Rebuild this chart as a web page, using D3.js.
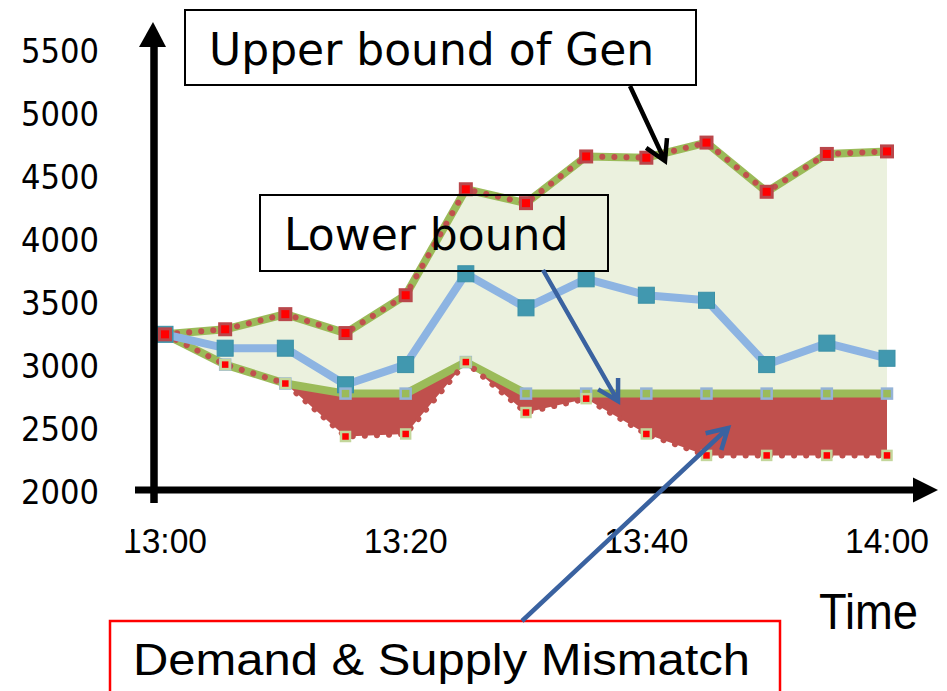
<!DOCTYPE html>
<html>
<head>
<meta charset="utf-8">
<script src="https://cdn.jsdelivr.net/npm/d3@7"></script>
<style>
  body { margin: 0; background: #fff; }
  svg { display: block; }
</style>
</head>
<body>
<div id="chart"></div>
<script>
// generation bounds vs. demand, 5 minute steps
const times = ["13:00","13:05","13:10","13:15","13:20","13:25","13:30","13:35","13:40","13:45","13:50","13:55","14:00"];
const upperGen = [3250, 3290, 3410, 3260, 3560, 4400, 4290, 4660, 4650, 4770, 4380, 4680, 4700];
const actualGen = [3250, 3140, 3140, 2850, 3010, 3730, 3460, 3690, 3560, 3520, 3010, 3180, 3060];
const lowerGen = [3250, 3010, 2860, 2780, 2780, 3030, 2780, 2780, 2780, 2780, 2780, 2780, 2780];
const demand = [3250, 3010, 2860, 2440, 2460, 3030, 2630, 2740, 2460, 2290, 2290, 2290, 2290];
const yTicks = [2000, 2500, 3000, 3500, 4000, 4500, 5000, 5500];
const xTicks = ["13:00", "13:20", "13:40", "14:00"];

const width = 947, height = 691;
const parse = d3.timeParse("%H:%M");

const svg = d3.select("#chart")
  .append("svg")
    .attr("width", width)
    .attr("height", height);

svg.append("rect").attr("width", width).attr("height", height).attr("fill", "#fff");

const x = d3.scaleTime()
  .domain([parse("13:00"), parse("14:00")])
  .range([165, 887]);
const y = d3.scaleLinear()
  .domain([2000, 5500])
  .range([492, 50.5]);

const data = times.map((t, i) => ({
  t: parse(t), up: upperGen[i], act: actualGen[i], low: lowerGen[i], dem: demand[i]
}));

// filled bands
svg.append("path")
  .datum(data)
  .attr("fill", "#EBF1DE")
  .attr("d", d3.area().x(d => x(d.t)).y0(d => y(d.low)).y1(d => y(d.up)));
svg.append("path")
  .datum(data)
  .attr("fill", "#C0504D")
  .attr("d", d3.area().x(d => x(d.t)).y0(d => y(d.low)).y1(d => y(d.dem)));

const line = key => d3.line().x(d => x(d.t)).y(d => y(d[key]));

// lower bound (green) + demand (dotted red)
svg.append("path").datum(data)
  .attr("fill", "none").attr("stroke", "#9BBB59").attr("stroke-width", 8)
  .attr("stroke-linejoin", "round")
  .attr("d", line("low"));
svg.append("path").datum(data)
  .attr("fill", "none").attr("stroke", "#C0504D").attr("stroke-width", 6)
  .attr("stroke-linecap", "round").attr("stroke-dasharray", "0.1 12")
  .attr("d", line("dem"));

// upper bound
svg.append("path").datum(data)
  .attr("fill", "none").attr("stroke", "#9BBB59").attr("stroke-width", 8)
  .attr("stroke-linejoin", "round")
  .attr("d", line("up"));
svg.append("path").datum(data)
  .attr("fill", "none").attr("stroke", "#C0504D").attr("stroke-width", 6)
  .attr("stroke-linecap", "round").attr("stroke-dasharray", "0.1 12")
  .attr("d", line("up"));

// actual generation
svg.append("path").datum(data)
  .attr("fill", "none").attr("stroke", "#8DB4E2").attr("stroke-width", 8)
  .attr("stroke-linejoin", "round")
  .attr("d", line("act"));

function markers(key, size, fill, stroke, sw) {
  svg.append("g").selectAll("rect")
    .data(data)
    .join("rect")
      .attr("x", d => x(d.t) - size / 2)
      .attr("y", d => y(d[key]) - size / 2)
      .attr("width", size).attr("height", size)
      .attr("fill", fill)
      .attr("stroke", stroke).attr("stroke-width", sw);
}
markers("act", 16, "#4198AF", "#3B90A6", 1);
markers("low", 10, "#9BBB59", "#95B3D7", 2.5);
markers("dem", 9, "#FF0000", "#C3D69B", 2.5);
markers("up", 11, "#FF0000", "#B9474B", 3);

// axes
svg.append("line").attr("x1", 154).attr("x2", 154).attr("y1", 503).attr("y2", 44)
  .attr("stroke", "#000").attr("stroke-width", 7.5);
svg.append("path").attr("d", "M139,47 L153,22 L166,47 Z").attr("fill", "#000");
svg.append("line").attr("x1", 135).attr("x2", 916).attr("y1", 490).attr("y2", 490)
  .attr("stroke", "#000").attr("stroke-width", 7);
svg.append("path").attr("d", "M913,477.5 L938,490 L913,502.5 Z").attr("fill", "#000");

svg.append("g").selectAll("text")
  .data(yTicks)
  .join("text")
    .attr("x", 99)
    .attr("y", d => y(d))
    .attr("dy", "0.36em")
    .attr("text-anchor", "end")
    .attr("font-family", "DejaVu Sans")
    .attr("font-size", 34)
    .attr("textLength", 78)
    .attr("lengthAdjust", "spacingAndGlyphs")
    .text(d => d);

svg.append("g").selectAll("text")
  .data(xTicks)
  .join("text")
    .attr("x", d => x(parse(d)))
    .attr("y", 553)
    .attr("text-anchor", "middle")
    .attr("font-family", "Liberation Sans")
    .attr("font-size", 35)
    .attr("textLength", 84)
    .attr("lengthAdjust", "spacingAndGlyphs")
    .text(d => d);
// left edge of the first label is cut off in the original
svg.append("rect").attr("x", 100).attr("y", 520).attr("width", 31).attr("height", 28).attr("fill", "#fff");

svg.append("text")
  .attr("x", 819).attr("y", 629)
  .attr("font-family", "Liberation Sans").attr("font-size", 50)
  .attr("textLength", 99).attr("lengthAdjust", "spacingAndGlyphs")
  .text("Time");

// annotations
function arrow(x1, y1, x2, y2, color) {
  const a = Math.atan2(y2 - y1, x2 - x1), L = 23, w = Math.PI / 6;
  const h1 = [x2 - L * Math.cos(a - w), y2 - L * Math.sin(a - w)];
  const h2 = [x2 - L * Math.cos(a + w), y2 - L * Math.sin(a + w)];
  svg.append("path")
    .attr("d", `M${x1},${y1}L${x2},${y2}M${h1}L${x2},${y2}L${h2}`)
    .attr("fill", "none").attr("stroke", color).attr("stroke-width", 4.5)
    .attr("stroke-linejoin", "miter");
}

svg.append("rect").attr("x", 185).attr("y", 10).attr("width", 511).attr("height", 75)
  .attr("fill", "#fff").attr("stroke", "#000").attr("stroke-width", 2);
svg.append("text").attr("x", 209).attr("y", 65)
  .attr("font-family", "DejaVu Sans").attr("font-size", 44)
  .text("Upper bound of Gen");
arrow(630, 86, 665, 161, "#000");

svg.append("rect").attr("x", 260).attr("y", 195).attr("width", 348).attr("height", 76)
  .attr("fill", "none").attr("stroke", "#000").attr("stroke-width", 2);
svg.append("text").attr("x", 284).attr("y", 250)
  .attr("font-family", "DejaVu Sans").attr("font-size", 44)
  .text("Lower bound");
arrow(543, 270, 618, 401, "#3A62A0");

svg.append("rect").attr("x", 110).attr("y", 621).attr("width", 670).attr("height", 90)
  .attr("fill", "#fff").attr("stroke", "#FF0000").attr("stroke-width", 2.5);
svg.append("text").attr("x", 133).attr("y", 675)
  .attr("font-family", "Liberation Sans").attr("font-size", 45)
  .attr("textLength", 617).attr("lengthAdjust", "spacingAndGlyphs")
  .text("Demand & Supply Mismatch");
arrow(522, 621, 728, 428, "#3A62A0");
</script>
</body>
</html>
